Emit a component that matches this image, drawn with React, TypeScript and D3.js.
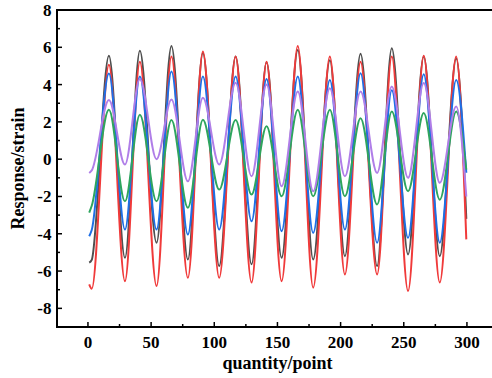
import React from "react";
import * as d3 from "d3";

// sample positions (quantity/point) at troughs and peaks
const X_POS = [1, 3, 16.6, 29.3, 41.1, 54.3, 66.1, 79.1, 91, 103.9, 116.9, 129.5, 141.4, 153.3, 166.1, 178.3, 191.5, 203.4, 215.8, 228.9, 240.5, 253.4, 265.8, 278.5, 291.5, 299.5];

const GRAY = [-5.55, -5.4, 5.54, -5.29, 5.82, -4.48, 6.07, -5.38, 5.7, -5.73, 5.5, -5.64, 5.2, -5.29, 5.86, -5.38, 5.3, -5.2, 5.65, -5.73, 5.95, -5.11, 5.5, -5.2, 5.4, -3.2];
const RED = [-6.71, -6.95, 5.06, -6.54, 5.23, -6.8, 5.5, -6.36, 5.77, -6.36, 5.5, -6.62, 5.23, -6.54, 6.07, -6.89, 5.5, -6.18, 5.23, -6.18, 5.5, -7.07, 5.55, -6.62, 5.5, -4.3];
const BLUE = [-4.13, -3.8, 4.6, -3.77, 4.43, -3.77, 4.7, -4.04, 4.43, -3.77, 4.43, -3.33, 4.3, -3.86, 4.43, -3.95, 4.25, -3.77, 4.61, -4.48, 3.7, -4.22, 4.56, -4.48, 4.25, -0.73];
const GREEN = [-2.87, -2.5, 2.65, -2.26, 2.38, -2.26, 2.1, -2.61, 2.11, -1.63, 2.1, -1.9, 1.76, -1.99, 2.65, -1.99, 2.65, -1.99, 2.2, -2.43, 2.56, -1.72, 2.47, -2.17, 2.56, -0.56];
const PURPLE = [-0.74, -0.6, 3.18, -0.29, 4.3, 0.0, 3.2, -1.19, 3.29, -0.29, 4.1, -0.92, 4.0, -1.45, 3.63, -1.72, 3.8, -0.92, 3.63, -0.74, 3.9, -1.0, 4.08, -1.27, 2.83, -2.0];

const SERIES = [
  { name: "s1", values: GRAY, color: "#4f4f4f" },
  { name: "s2", values: RED, color: "#f03a3a" },
  { name: "s3", values: BLUE, color: "#1e6fe6" },
  { name: "s4", values: GREEN, color: "#2ea55e" },
  { name: "s5", values: PURPLE, color: "#b07ee8" },
];

const X_TICKS = [0, 50, 100, 150, 200, 250, 300];
const X_MINOR = [25, 75, 125, 175, 225, 275];
const Y_TICKS = [-8, -6, -4, -2, 0, 2, 4, 6, 8];
const Y_MINOR = [-7, -5, -3, -1, 1, 3, 5, 7];

const X_TITLE = "quantity/point";
const Y_TITLE = "Response/strain";

const W = 492;
const H = 378;
const LEFT = 57;
const RIGHT = 492.2;
const TOP = 10;
const BOTTOM = 327;
const FONT = "'Liberation Serif', 'Times New Roman', serif";

export default function App() {
  const x = d3.scaleLinear().domain([-24.5, 320]).range([LEFT, RIGHT]);
  const y = d3.scaleLinear().domain([-9, 8]).range([BOTTOM, TOP]);

  const line = d3
    .line<number>()
    .x((_, i) => x(X_POS[i]))
    .y((d) => y(d))
    .curve(d3.curveMonotoneX);

  return (
    <svg
      width={W}
      height={H}
      style={{ position: "absolute", left: 0, top: 0, background: "#fff" }}
      fontFamily={FONT}
    >
      <rect x={0} y={0} width={W} height={H} fill="#fff" />
      <g>
        {SERIES.map((s) => (
          <path
            key={s.name}
            d={line(s.values) || ""}
            fill="none"
            stroke={s.color}
            strokeWidth={2}
            strokeLinejoin="round"
          />
        ))}
      </g>
      {/* frame: left, bottom, top */}
      <line x1={LEFT} x2={W} y1={TOP} y2={TOP} stroke="#000" strokeWidth={2} />
      <line x1={LEFT} x2={W} y1={BOTTOM} y2={BOTTOM} stroke="#000" strokeWidth={2} />
      <line x1={LEFT} x2={LEFT} y1={TOP - 1} y2={BOTTOM + 1} stroke="#000" strokeWidth={2} />
      {/* x ticks */}
      {X_TICKS.map((t) => (
        <g key={"xt" + t}>
          <line x1={x(t)} x2={x(t)} y1={BOTTOM} y2={BOTTOM - 5} stroke="#000" strokeWidth={1.5} />
          <text x={x(t)} y={348} textAnchor="middle" fontSize={17} fontWeight="bold">
            {t}
          </text>
        </g>
      ))}
      {X_MINOR.map((t) => (
        <line key={"xm" + t} x1={x(t)} x2={x(t)} y1={BOTTOM} y2={BOTTOM - 3} stroke="#000" strokeWidth={1.5} />
      ))}
      {/* y ticks */}
      {Y_TICKS.map((t) => (
        <g key={"yt" + t}>
          <line x1={LEFT} x2={LEFT + 5} y1={y(t)} y2={y(t)} stroke="#000" strokeWidth={1.5} />
          <text x={51.5} y={y(t)} dy="0.35em" textAnchor="end" fontSize={17} fontWeight="bold">
            {t}
          </text>
        </g>
      ))}
      {Y_MINOR.map((t) => (
        <line key={"ym" + t} x1={LEFT} x2={LEFT + 3} y1={y(t)} y2={y(t)} stroke="#000" strokeWidth={1.5} />
      ))}
      <text x={x(150)} y={369} textAnchor="middle" fontSize={18} fontWeight="bold">
        {X_TITLE}
      </text>
      <text
        transform={`translate(18,${(TOP + BOTTOM) / 2}) rotate(-90)`}
        textAnchor="middle"
        dy="0.35em"
        fontSize={18}
        fontWeight="bold"
      >
        {Y_TITLE}
      </text>
    </svg>
  );
}
